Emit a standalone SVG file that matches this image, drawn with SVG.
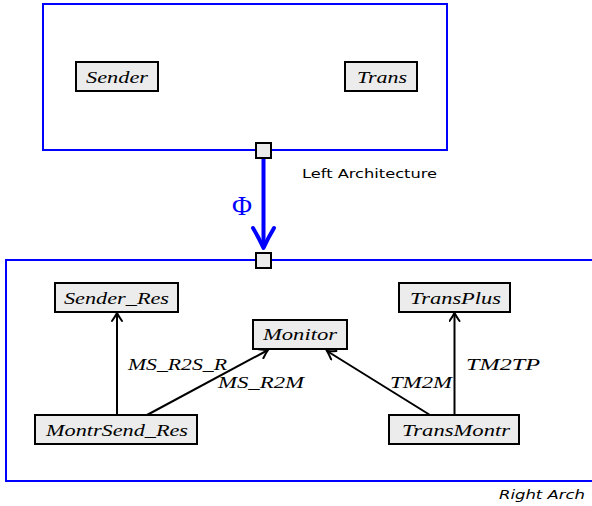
<svg xmlns="http://www.w3.org/2000/svg" width="592" height="506" viewBox="0 0 592 506">
<style>
.arch{fill:none;stroke:#0000ff;stroke-width:2}
.box{fill:#ececec;stroke:#000;stroke-width:2}
.port{fill:#ececec;stroke:#000;stroke-width:2}
.lbl{font-family:"Liberation Serif","DejaVu Serif",serif;font-style:italic;font-size:16px;fill:#000}
.edge{fill:none;stroke:#000;stroke-width:2}
.sans{font-family:"DejaVu Sans","Liberation Sans",sans-serif;font-size:13px;fill:#000}
</style>
<defs>
<marker id="ah" viewBox="-10 -6 12 12" refX="0" refY="0" markerWidth="12" markerHeight="12" markerUnits="userSpaceOnUse" orient="auto">
<path d="M-8,-5 Q-3,-1.5 0,0 Q-3,1.5 -8,5" fill="none" stroke="#000" stroke-width="2" stroke-linecap="round"/>
</marker>
</defs>
<g id="left-arch">
<rect class="arch" x="43" y="4" width="404" height="146"/>
<text class="sans" x="302" y="178" textLength="135" lengthAdjust="spacingAndGlyphs">Left Architecture</text>
</g>
<g id="right-arch">
<rect class="arch" x="6" y="260" width="600" height="221"/>
<text class="sans" x="499" y="499" font-style="italic" textLength="86" lengthAdjust="spacingAndGlyphs">Right Arch</text>
</g>
<g id="sender"><rect class="box" x="76" y="62" width="82" height="29"/><text class="lbl" x="86" y="83" textLength="62" lengthAdjust="spacingAndGlyphs">Sender</text></g>
<g id="trans"><rect class="box" x="345" y="62" width="72" height="29"/><text class="lbl" x="357" y="83" textLength="50" lengthAdjust="spacingAndGlyphs">Trans</text></g>
<g id="sender-res"><rect class="box" x="55" y="283" width="123" height="29"/><text class="lbl" x="64" y="304" textLength="105" lengthAdjust="spacingAndGlyphs">Sender_Res</text></g>
<g id="monitor"><rect class="box" x="253" y="320" width="94" height="29"/><text class="lbl" x="263" y="340" textLength="74" lengthAdjust="spacingAndGlyphs">Monitor</text></g>
<g id="transplus"><rect class="box" x="399" y="283" width="111" height="29"/><text class="lbl" x="410" y="304" textLength="91" lengthAdjust="spacingAndGlyphs">TransPlus</text></g>
<g id="montrsend-res"><rect class="box" x="35" y="415" width="162" height="29"/><text class="lbl" x="46" y="436" textLength="142" lengthAdjust="spacingAndGlyphs">MontrSend_Res</text></g>
<g id="transmontr"><rect class="box" x="389" y="415" width="130" height="29"/><text class="lbl" x="402" y="436" textLength="108" lengthAdjust="spacingAndGlyphs">TransMontr</text></g>
<g id="connectors">
<line x1="263.5" y1="158" x2="263.5" y2="244" stroke="#0000ff" stroke-width="4"/>
<path d="M253,228 Q259,238 263.5,248 Q268,238 274,228" fill="none" stroke="#0000ff" stroke-width="4" stroke-linejoin="round" stroke-linecap="round"/>
<text x="232" y="215" font-family="Liberation Serif,DejaVu Serif,serif" font-size="27" fill="#0000ff" textLength="20" lengthAdjust="spacingAndGlyphs">Φ</text>
<line class="edge" x1="117" y1="415" x2="117" y2="313" marker-end="url(#ah)"/>
<text class="lbl" x="128" y="370" textLength="99" lengthAdjust="spacingAndGlyphs">MS_R2S_R</text>
<line class="edge" x1="147" y1="415" x2="268" y2="350" marker-end="url(#ah)"/>
<text class="lbl" x="218" y="388" textLength="86" lengthAdjust="spacingAndGlyphs">MS_R2M</text>
<line class="edge" x1="430" y1="415" x2="327" y2="351" marker-end="url(#ah)"/>
<text class="lbl" x="390" y="388" textLength="62" lengthAdjust="spacingAndGlyphs">TM2M</text>
<line class="edge" x1="454.5" y1="415" x2="454.5" y2="313" marker-end="url(#ah)"/>
<text class="lbl" x="466" y="370" textLength="74" lengthAdjust="spacingAndGlyphs">TM2TP</text>
</g>
<g id="ports">
<rect class="port" x="256" y="143" width="15" height="15"/>
<rect class="port" x="256" y="253" width="15" height="15"/>
</g>
</svg>
